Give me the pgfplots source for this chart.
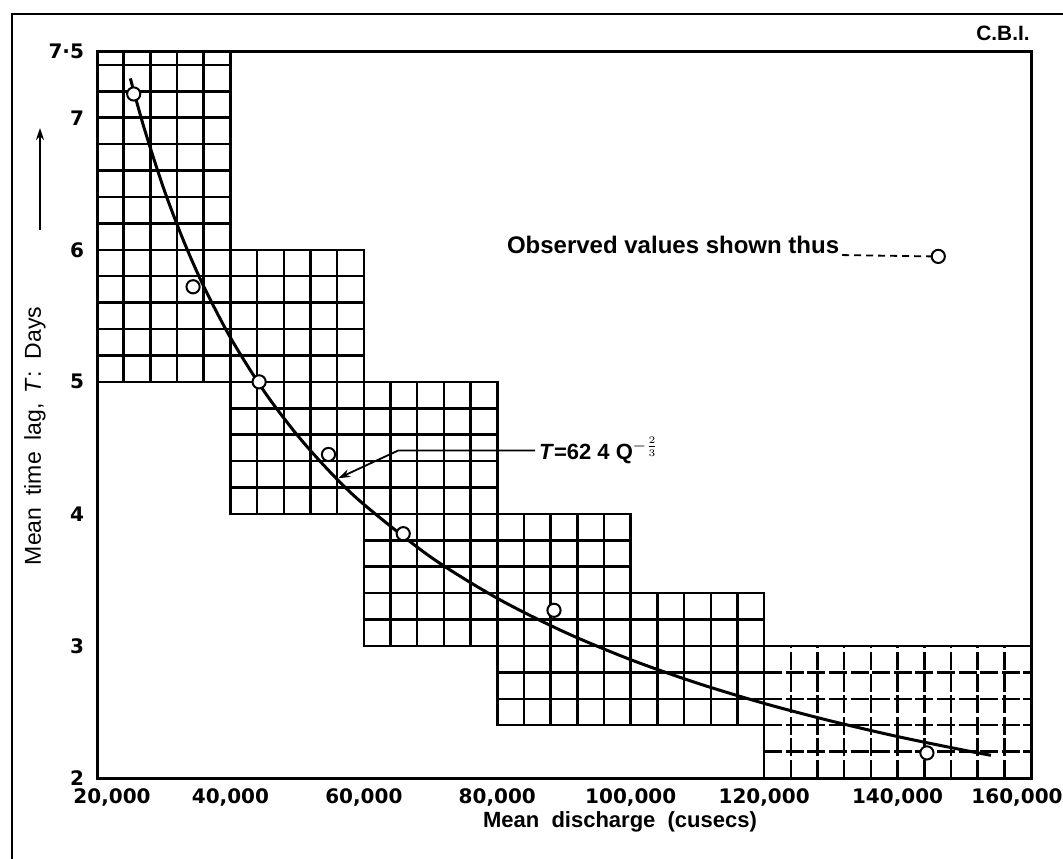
\documentclass[border=0pt]{standalone}
\usepackage{pgfplots}
\pgfplotsset{compat=1.18}
\usepackage{fontspec}
\setmainfont{Liberation Sans}
\newfontfamily\djv{DejaVu Sans}
\usetikzlibrary{arrows.meta}
\begin{document}
\begin{tikzpicture}
\path[use as bounding box] (-48.5pt,-40pt) rectangle (483pt,389pt);
% outer frame
\draw[line width=1.3pt] (-42.5pt,-60pt) -- (-42.5pt,382pt) -- (540pt,382pt);
\node[font=\bfseries\fontsize{10.4}{12}\selectfont] at (453pt,372.5pt) {C.B.I.};
% stepped graph-paper blocks
\begin{scope}[x=13.342857pt, y=13.205455pt, line width=1.25pt]
  \draw[step=1] (0,15) grid (5,27.5);  \draw (0,15) rectangle (5,27.5);
  \draw[step=1] (5,10) grid (10,20);   \draw (5,10) rectangle (10,20);
  \draw[step=1] (10,5) grid (15,15);   \draw (10,5) rectangle (15,15);
  \draw[step=1] (15,2) grid (20,10);   \draw (15,2) rectangle (20,10);
  \draw[step=1] (20,2) grid (25,7);    \draw (20,2) rectangle (25,7);
  \draw[step=1, dash pattern=on 9pt off 1.8pt] (25,0) grid (35,5);
  \draw (25,0) rectangle (35,5);
\end{scope}
\begin{axis}[
  at={(0,0)}, anchor=south west,
  width=467pt, height=363.15pt, scale only axis,
  xmin=20000, xmax=160000, ymin=2, ymax=7.5,
  axis line style={line width=1.5pt},
  scaled ticks=false,
  xtick={20000,40000,60000,80000,100000,120000,140000,160000},
  xticklabels={{\hspace*{15pt}20,000},{40,000},{60,000},{80,000},{100,000},{120,000},{140,000},{160,000\hspace*{14pt}}},
  ytick={2,3,4,5,6,7,7.5},
  yticklabels={2,3,4,5,6,7,7·5},
  major tick length=0pt,
  /pgf/number format/assume math mode=true,
  ticklabel style={font=\djv\bfseries\fontsize{10}{12}\selectfont},
  xticklabel style={yshift=-2pt},
  yticklabel style={xshift=-3pt},
  clip=false,
]
\addplot[smooth, line width=1.5pt] coordinates {
 (25000,7.298) (27000,6.933) (30000,6.463) (33000,6.065) (36000,5.723)
 (40000,5.335) (45000,4.932) (50000,4.598) (55000,4.314) (60000,4.072)
 (70000,3.674) (80000,3.361) (90000,3.107) (100000,2.896) (110000,2.718)
 (120000,2.565) (130000,2.432) (140000,2.314) (150000,2.210) (154000,2.172)
};
\addplot[only marks, mark=*, mark size=3.3pt, mark options={fill=white, draw=black, line width=1pt}] coordinates {
 (25500,7.18) (34400,5.72) (44300,5.00) (54700,4.45) (65900,3.85) (88500,3.27) (144400,2.19)
};
% legend sample
\addplot[only marks, mark=*, mark size=3.3pt, mark options={fill=white, draw=black, line width=1pt}] coordinates {(146100,5.95)};
\draw[line width=0.9pt, dash pattern=on 3.5pt off 2.5pt] (axis cs:131700,5.96) -- (axis cs:145000,5.95);
\node[anchor=base west, font=\bfseries\fontsize{12}{14}\selectfont] at (axis cs:80400,5.975) {Observed values shown thus};
% formula annotation
\draw[line width=0.9pt, -{Stealth[length=6pt,width=4pt]}] (axis cs:85660,4.48) -- (axis cs:65150,4.48) -- (axis cs:56170,4.27);
\node[anchor=west, font=\bfseries\fontsize{11}{13}\selectfont, inner sep=1pt] at (axis cs:85900,4.48) {\textit{T}=62 4 Q$^{-\frac{2}{3}}$};
\end{axis}
% axis labels
\node[rotate=90, font=\fontsize{11.5}{13}\selectfont] at (-31pt,171pt) {Mean\hspace{6pt}time\hspace{6pt}lag,\hspace{5pt}\textit{T}:\hspace{6pt}Days};
\draw[line width=0.9pt, -{Stealth[length=6pt,width=4pt]}] (-28.5pt,274pt) -- (-28.5pt,325pt);
\node[font=\bfseries\fontsize{11}{13}\selectfont] at (261.5pt,-22pt) {Mean\ \ discharge\ \ (cusecs)};
\end{tikzpicture}
\end{document}
